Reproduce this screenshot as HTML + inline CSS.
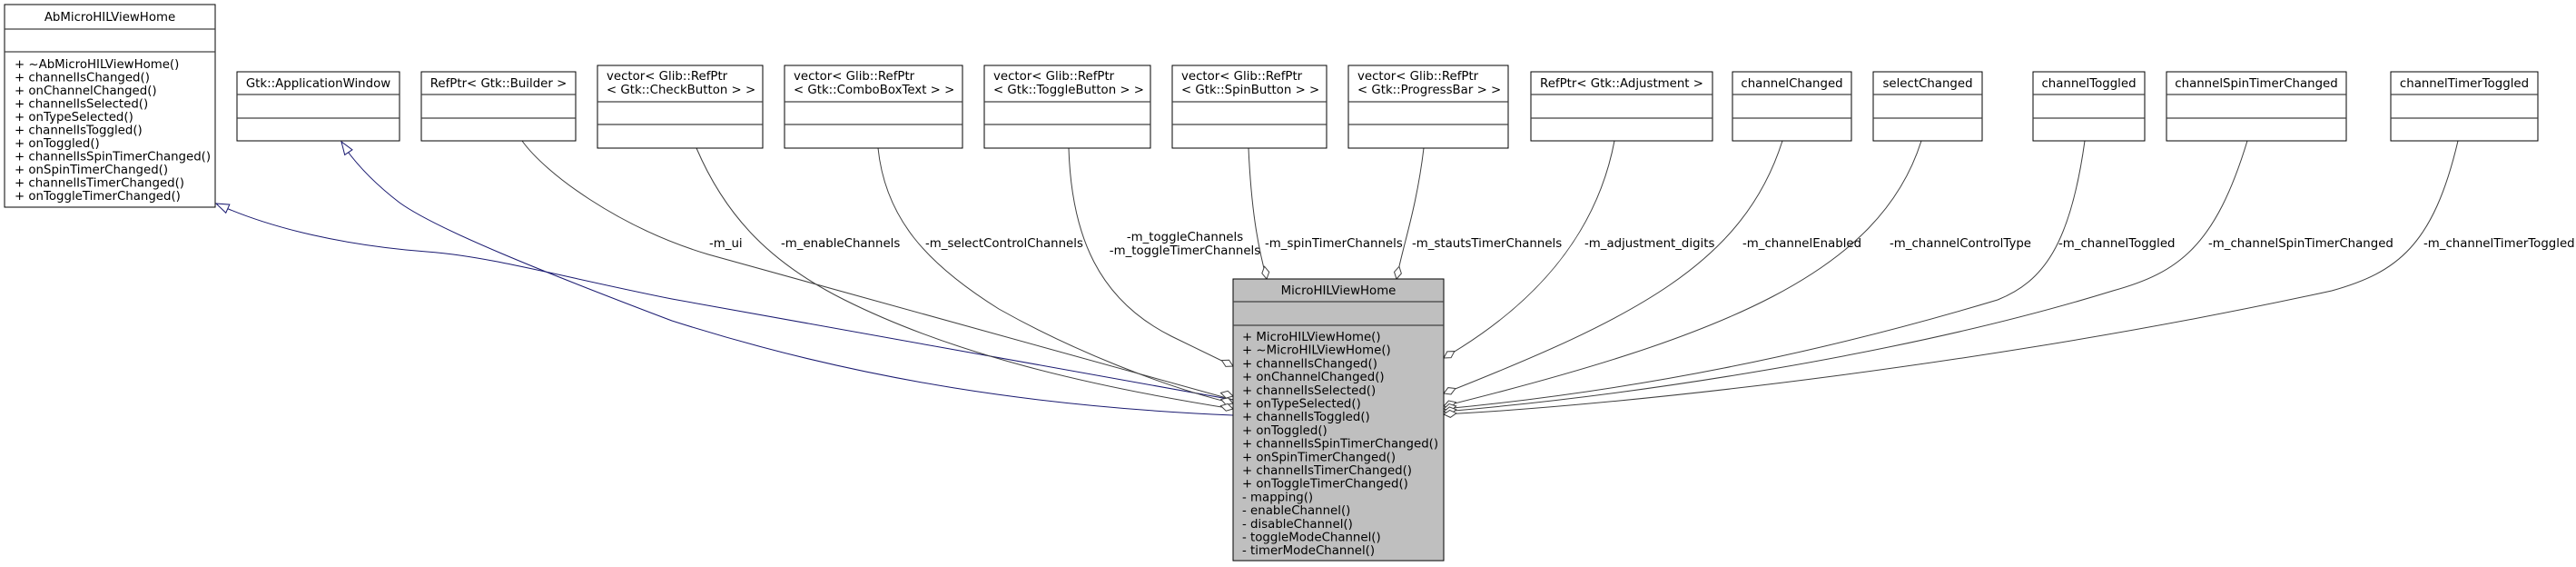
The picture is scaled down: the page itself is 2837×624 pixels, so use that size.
<!DOCTYPE html>
<html><head><meta charset="utf-8"><style>
html,body{margin:0;padding:0;background:#fff;}
svg{display:block;}
text{font-family:"DejaVu Sans","Liberation Sans",sans-serif;font-size:13.33px;fill:#000;}
.b{fill:#fff;stroke:#000;stroke-width:1;}
.s{stroke:#404040;stroke-width:1.2;fill:none;}
.l{fill:none;stroke:#404040;stroke-width:1;}
.u{fill:none;stroke:#191970;stroke-width:1;}
.d{fill:#fff;stroke:#404040;stroke-width:1;}
.t{fill:#fff;stroke:#191970;stroke-width:1;}
</style></head><body>
<svg width="2837" height="624" viewBox="0 0 2837 624" xmlns="http://www.w3.org/2000/svg">
<!-- connectors -->
<path class="u" d="M1358,440 L740,329 C620,305 540,282 470,277 C380,270 300,252 240,225"/>
<path class="u" d="M1358,457 C1150,448 950,420 740,353 C600,300 480,252 440,223 C410,200 390,178 376,157"/>
<path class="l" d="M575,155 C600,190 680,250 780,280 L1358,440"/>
<path class="l" d="M767,163 C800,240 850,290 930,330 C1050,390 1200,425 1358,450"/>
<path class="l" d="M967,163 C975,240 1020,290 1100,340 C1180,385 1280,425 1358,444"/>
<path class="l" d="M1177,163 C1180,260 1210,330 1290,370 L1358,403"/>
<path class="l" d="M1375,163 C1378,230 1385,270 1395,307"/>
<path class="l" d="M1568,163 C1560,230 1545,270 1538,307"/>
<path class="l" d="M1778,155 C1760,250 1700,330 1590,394"/>
<path class="l" d="M1963,155 C1920,290 1800,350 1590,433"/>
<path class="l" d="M2116,155 C2070,300 1900,370 1590,447"/>
<path class="l" d="M2296,155 C2280,270 2250,310 2200,330 C2000,390 1800,430 1590,450"/>
<path class="l" d="M2475,155 C2440,270 2400,300 2327,320 C2100,390 1800,435 1590,453"/>
<path class="l" d="M2707,155 C2680,270 2640,300 2568,320 C2200,400 1800,445 1590,456"/>

<!-- inheritance arrowheads -->
<g transform="translate(238,224) rotate(-156)"><polygon class="t" points="0,0 -14,-5 -14,5"/></g>
<g transform="translate(376,156) rotate(-124)"><polygon class="t" points="0,0 -14,-5 -14,5"/></g>

<!-- diamonds -->
<g transform="translate(1358,403) rotate(27)"><polygon class="d" points="0,0 -7,-4 -14,0 -7,4"/></g>
<g transform="translate(1358,436) rotate(15)"><polygon class="d" points="0,0 -7,-4 -14,0 -7,4"/></g>
<g transform="translate(1358,444) rotate(19)"><polygon class="d" points="0,0 -7,-4 -14,0 -7,4"/></g>
<g transform="translate(1358,450) rotate(14)"><polygon class="d" points="0,0 -7,-4 -14,0 -7,4"/></g>
<g transform="translate(1395,307) rotate(80)"><polygon class="d" points="0,0 -7,-4 -14,0 -7,4"/></g>
<g transform="translate(1538,307) rotate(102)"><polygon class="d" points="0,0 -7,-4 -14,0 -7,4"/></g>
<g transform="translate(1590,394) rotate(148)"><polygon class="d" points="0,0 -7,-4 -14,0 -7,4"/></g>
<g transform="translate(1590,433) rotate(157)"><polygon class="d" points="0,0 -7,-4 -14,0 -7,4"/></g>
<g transform="translate(1590,447) rotate(162)"><polygon class="d" points="0,0 -7,-4 -14,0 -7,4"/></g>
<g transform="translate(1590,450) rotate(167)"><polygon class="d" points="0,0 -7,-4 -14,0 -7,4"/></g>
<g transform="translate(1590,453) rotate(171)"><polygon class="d" points="0,0 -7,-4 -14,0 -7,4"/></g>
<g transform="translate(1590,456) rotate(175)"><polygon class="d" points="0,0 -7,-4 -14,0 -7,4"/></g>

<!-- labels -->
<text x="781" y="272">-m_ui</text>
<text x="860" y="272">-m_enableChannels</text>
<text x="1019" y="272">-m_selectControlChannels</text>
<text x="1305" y="265" text-anchor="middle">-m_toggleChannels</text>
<text x="1305" y="280" text-anchor="middle">-m_toggleTimerChannels</text>
<text x="1393" y="272">-m_spinTimerChannels</text>
<text x="1555" y="272">-m_stautsTimerChannels</text>
<text x="1745" y="272">-m_adjustment_digits</text>
<text x="1919" y="272">-m_channelEnabled</text>
<text x="2081" y="272">-m_channelControlType</text>
<text x="2267" y="272">-m_channelToggled</text>
<text x="2432" y="272">-m_channelSpinTimerChanged</text>
<text x="2669" y="272">-m_channelTimerToggled</text>

<!-- AbMicroHILViewHome -->
<rect class="b" x="5" y="5" width="232" height="223"/>
<line class="s" x1="5" y1="32" x2="237" y2="32"/>
<line class="s" x1="5" y1="57" x2="237" y2="57"/>
<text x="121" y="23" text-anchor="middle">AbMicroHILViewHome</text>
<text x="16" y="75">+ ~AbMicroHILViewHome()</text>
<text x="16" y="89.5">+ channelIsChanged()</text>
<text x="16" y="104">+ onChannelChanged()</text>
<text x="16" y="118.5">+ channelIsSelected()</text>
<text x="16" y="133">+ onTypeSelected()</text>
<text x="16" y="147.5">+ channelIsToggled()</text>
<text x="16" y="162">+ onToggled()</text>
<text x="16" y="176.5">+ channelIsSpinTimerChanged()</text>
<text x="16" y="191">+ onSpinTimerChanged()</text>
<text x="16" y="205.5">+ channelIsTimerChanged()</text>
<text x="16" y="220">+ onToggleTimerChanged()</text>

<!-- single-line boxes -->
<g>
<rect class="b" x="261" y="79" width="179" height="76"/><line class="s" x1="261" y1="104" x2="440" y2="104"/><line class="s" x1="261" y1="130" x2="440" y2="130"/>
<text x="350.5" y="96" text-anchor="middle">Gtk::ApplicationWindow</text>
<rect class="b" x="464" y="79" width="170" height="76"/><line class="s" x1="464" y1="104" x2="634" y2="104"/><line class="s" x1="464" y1="130" x2="634" y2="130"/>
<text x="549" y="96" text-anchor="middle">RefPtr&lt; Gtk::Builder &gt;</text>
<rect class="b" x="1686" y="79" width="200" height="76"/><line class="s" x1="1686" y1="104" x2="1886" y2="104"/><line class="s" x1="1686" y1="130" x2="1886" y2="130"/>
<text x="1786" y="96" text-anchor="middle">RefPtr&lt; Gtk::Adjustment &gt;</text>
<rect class="b" x="1908" y="79" width="131" height="76"/><line class="s" x1="1908" y1="104" x2="2039" y2="104"/><line class="s" x1="1908" y1="130" x2="2039" y2="130"/>
<text x="1973.5" y="96" text-anchor="middle">channelChanged</text>
<rect class="b" x="2063" y="79" width="120" height="76"/><line class="s" x1="2063" y1="104" x2="2183" y2="104"/><line class="s" x1="2063" y1="130" x2="2183" y2="130"/>
<text x="2123" y="96" text-anchor="middle">selectChanged</text>
<rect class="b" x="2239" y="79" width="123" height="76"/><line class="s" x1="2239" y1="104" x2="2362" y2="104"/><line class="s" x1="2239" y1="130" x2="2362" y2="130"/>
<text x="2300.5" y="96" text-anchor="middle">channelToggled</text>
<rect class="b" x="2386" y="79" width="198" height="76"/><line class="s" x1="2386" y1="104" x2="2584" y2="104"/><line class="s" x1="2386" y1="130" x2="2584" y2="130"/>
<text x="2485" y="96" text-anchor="middle">channelSpinTimerChanged</text>
<rect class="b" x="2633" y="79" width="162" height="76"/><line class="s" x1="2633" y1="104" x2="2795" y2="104"/><line class="s" x1="2633" y1="130" x2="2795" y2="130"/>
<text x="2714" y="96" text-anchor="middle">channelTimerToggled</text>
</g>

<!-- two-line boxes -->
<g>
<rect class="b" x="658" y="72" width="182" height="91"/><line class="s" x1="658" y1="112" x2="840" y2="112"/><line class="s" x1="658" y1="137" x2="840" y2="137"/>
<text x="668" y="88">vector&lt; Glib::RefPtr</text><text x="668" y="103">&lt; Gtk::CheckButton &gt; &gt;</text>
<rect class="b" x="864" y="72" width="196" height="91"/><line class="s" x1="864" y1="112" x2="1060" y2="112"/><line class="s" x1="864" y1="137" x2="1060" y2="137"/>
<text x="874" y="88">vector&lt; Glib::RefPtr</text><text x="874" y="103">&lt; Gtk::ComboBoxText &gt; &gt;</text>
<rect class="b" x="1084" y="72" width="183" height="91"/><line class="s" x1="1084" y1="112" x2="1267" y2="112"/><line class="s" x1="1084" y1="137" x2="1267" y2="137"/>
<text x="1094" y="88">vector&lt; Glib::RefPtr</text><text x="1094" y="103">&lt; Gtk::ToggleButton &gt; &gt;</text>
<rect class="b" x="1291" y="72" width="170" height="91"/><line class="s" x1="1291" y1="112" x2="1461" y2="112"/><line class="s" x1="1291" y1="137" x2="1461" y2="137"/>
<text x="1301" y="88">vector&lt; Glib::RefPtr</text><text x="1301" y="103">&lt; Gtk::SpinButton &gt; &gt;</text>
<rect class="b" x="1485" y="72" width="176" height="91"/><line class="s" x1="1485" y1="112" x2="1661" y2="112"/><line class="s" x1="1485" y1="137" x2="1661" y2="137"/>
<text x="1495" y="88">vector&lt; Glib::RefPtr</text><text x="1495" y="103">&lt; Gtk::ProgressBar &gt; &gt;</text>
</g>

<!-- MicroHILViewHome -->
<rect x="1358" y="307" width="232" height="310" fill="#bfbfbf" stroke="#000" stroke-width="1"/>
<line class="s" x1="1358" y1="332" x2="1590" y2="332"/>
<line class="s" x1="1358" y1="358" x2="1590" y2="358"/>
<text x="1474" y="324" text-anchor="middle">MicroHILViewHome</text>
<text x="1368" y="375">+ MicroHILViewHome()</text>
<text x="1368" y="389.7">+ ~MicroHILViewHome()</text>
<text x="1368" y="404.4">+ channelIsChanged()</text>
<text x="1368" y="419.1">+ onChannelChanged()</text>
<text x="1368" y="433.8">+ channelIsSelected()</text>
<text x="1368" y="448.5">+ onTypeSelected()</text>
<text x="1368" y="463.2">+ channelIsToggled()</text>
<text x="1368" y="477.9">+ onToggled()</text>
<text x="1368" y="492.6">+ channelIsSpinTimerChanged()</text>
<text x="1368" y="507.3">+ onSpinTimerChanged()</text>
<text x="1368" y="522">+ channelIsTimerChanged()</text>
<text x="1368" y="536.7">+ onToggleTimerChanged()</text>
<text x="1368" y="551.4">- mapping()</text>
<text x="1368" y="566.1">- enableChannel()</text>
<text x="1368" y="580.8">- disableChannel()</text>
<text x="1368" y="595.5">- toggleModeChannel()</text>
<text x="1368" y="610.2">- timerModeChannel()</text>
</svg>
</body></html>
